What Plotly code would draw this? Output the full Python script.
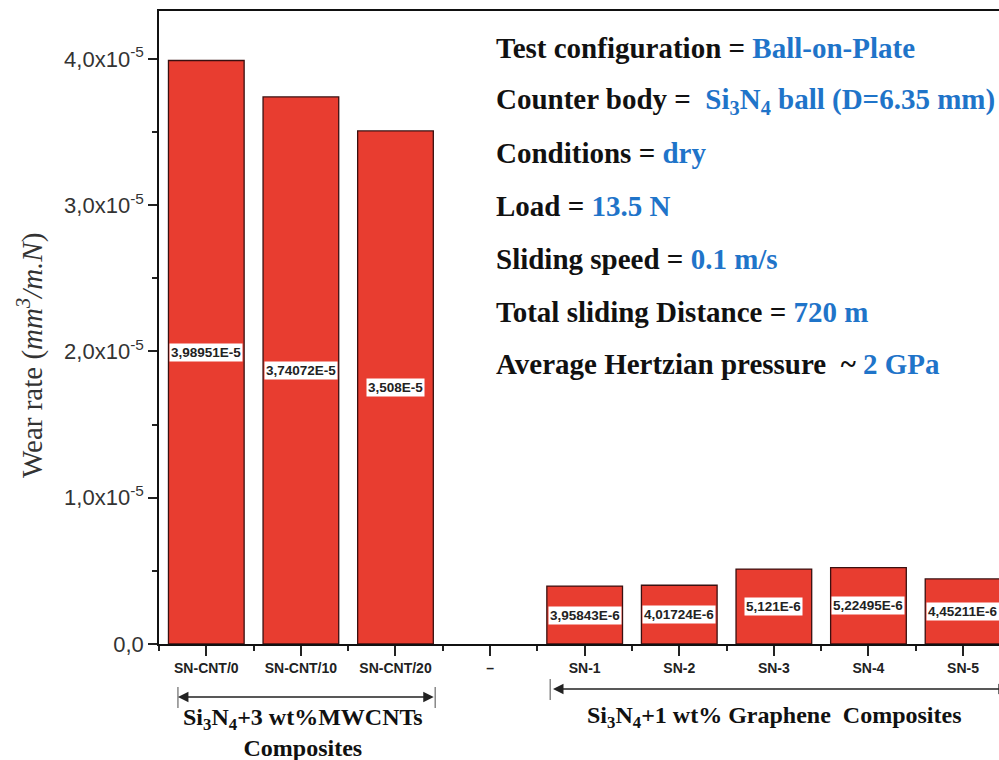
import plotly.graph_objects as go

categories = ["SN-CNT/0", "SN-CNT/10", "SN-CNT/20", "–", "SN-1", "SN-2", "SN-3", "SN-4", "SN-5"]
wear_rate = [3.98951e-5, 3.74072e-5, 3.508e-5, None, 3.95843e-6, 4.01724e-6, 5.121e-6, 5.22495e-6, 4.45211e-6]
value_labels = ["3,98951E-5", "3,74072E-5", "3,508E-5", "", "3,95843E-6", "4,01724E-6", "5,121E-6", "5,22495E-6", "4,45211E-6"]
y_tickvals = [0, 1e-5, 2e-5, 3e-5, 4e-5]
y_ticktext = ["0,0", "1,0x10<sup>-5</sup>", "2,0x10<sup>-5</sup>", "3,0x10<sup>-5</sup>", "4,0x10<sup>-5</sup>"]
info_keys = ["Test configuration = ", "Counter body =  ", "Conditions = ", "Load = ", "Sliding speed = ",
             "Total sliding Distance = ", "Average Hertzian pressure  ~ "]
info_vals = ["Ball-on-Plate", "Si<sub>3</sub>N<sub>4</sub> ball (D=6.35 mm)", "dry", "13.5 N", "0.1 m/s",
             "720 m", "2 GPa"]
group_labels = ["Si<sub>3</sub>N<sub>4</sub>+3 wt%MWCNTs<br>Composites",
                "Si<sub>3</sub>N<sub>4</sub>+1 wt% Graphene  Composites"]

xpos = list(range(len(categories)))
RED = "#E83D30"
BLUE = "#1f74c9"
SERIF = "Liberation Serif, Times New Roman, serif"
SANS = "Liberation Sans, Arial, sans-serif"

L, R, T, B = 159, 999, 11, 644


def px(x):
    return (x - L) / (R - L)


def py(y):
    return (B - y) / (B - T)


fig = go.Figure()
fig.add_trace(go.Bar(
    x=xpos, y=wear_rate, width=0.8,
    marker=dict(color=RED, line=dict(color="#3a1010", width=1.3)),
    hoverinfo="skip", showlegend=False,
))

annotations = []
for xi, v, lab in zip(xpos, wear_rate, value_labels):
    if v is None:
        continue
    annotations.append(dict(
        x=xi, y=v / 2, xref="x", yref="y", text=f"<b>{lab}</b>", showarrow=False,
        font=dict(family=SANS, size=13.5, color="#222"), bgcolor="white", borderpad=1,
    ))

# y-axis title
annotations.append(dict(
    x=px(30), y=py(356), xref="paper", yref="paper", xanchor="center", yanchor="middle",
    textangle=-90, showarrow=False,
    text="Wear rate (<i>mm<sup>3</sup>/m.N</i>)", font=dict(family=SERIF, size=29, color="#333"),
))

# info text block
y0 = 48
for i, (k, v) in enumerate(zip(info_keys, info_vals)):
    ypx = y0 + i * 52.7
    annotations.append(dict(
        x=px(494), y=py(ypx), xref="paper", yref="paper", xanchor="left", yanchor="middle",
        text=f"<b><span style='color:#111'>{k}</span><span style='color:{BLUE}'>{v}</span></b>",
        showarrow=False, font=dict(family=SERIF, size=29),
    ))

# group labels
annotations.append(dict(x=1.02, y=py(702), xref="x", yref="paper", text=f"<b>{group_labels[0]}</b>",
                        showarrow=False, yanchor="top", font=dict(family=SERIF, size=24, color="#111")))
annotations.append(dict(x=6.0, y=py(700), xref="x", yref="paper", text=f"<b>{group_labels[1]}</b>",
                        showarrow=False, yanchor="top", font=dict(family=SERIF, size=24, color="#111")))

# double arrows
annotations.append(dict(x=-0.30, y=py(697), ax=2.42, ay=0, xref="x", yref="paper", axref="x", ayref="pixel",
                        showarrow=True, arrowhead=2, startarrowhead=2, arrowside="end+start", arrowsize=1.4,
                        arrowwidth=1.5, arrowcolor="#222", text=""))
annotations.append(dict(x=3.665, y=py(689), ax=8.5, ay=0, xref="x", yref="paper", axref="x", ayref="pixel",
                        showarrow=True, arrowhead=2, startarrowhead=2, arrowside="end+start", arrowsize=1.4,
                        arrowwidth=1.5, arrowcolor="#222", text=""))

shapes = [
    dict(type="line", xref="x", yref="paper", x0=-0.30, x1=-0.30, y0=py(687), y1=py(708), line=dict(color="#888", width=1.5)),
    dict(type="line", xref="x", yref="paper", x0=2.42, x1=2.42, y0=py(687), y1=py(708), line=dict(color="#888", width=1.5)),
    dict(type="line", xref="x", yref="paper", x0=3.636, x1=3.636, y0=py(679), y1=py(700), line=dict(color="#888", width=1.5)),
]

fig.update_layout(
    width=999, height=760,
    margin=dict(l=L, r=999 - R, t=T, b=760 - B),
    plot_bgcolor="white", paper_bgcolor="white",
    annotations=annotations, shapes=shapes,
    xaxis=dict(
        range=[-0.5, 8.38], tickmode="array", tickvals=xpos, ticktext=[f"<b>{c}</b>" for c in categories],
        ticks="outside", ticklen=10, tickwidth=1.5, tickcolor="#222",
        minor=dict(tick0=-0.5, dtick=1, ticks="outside", ticklen=5, tickwidth=1.5, tickcolor="#222"),
        showline=True, linecolor="#111", linewidth=1.5, mirror=True, showgrid=False, zeroline=False,
        tickfont=dict(family=SANS, size=14, color="#222"),
    ),
    yaxis=dict(
        range=[0, 4.328e-5], tickmode="array", tickvals=y_tickvals, ticktext=y_ticktext,
        ticks="outside", ticklen=9, tickwidth=1.5, tickcolor="#222",
        minor=dict(tick0=0, dtick=0.5e-5, ticks="outside", ticklen=5, tickwidth=1.5, tickcolor="#222"),
        showline=True, linecolor="#111", linewidth=1.5, showgrid=False, zeroline=False,
        tickfont=dict(family=SANS, size=22, color="#333"),
    ),
)

fig.write_html("out.html", config={"displayModeBar": False},
               post_script="document.body.style.margin='0';document.body.style.overflow='hidden';")
